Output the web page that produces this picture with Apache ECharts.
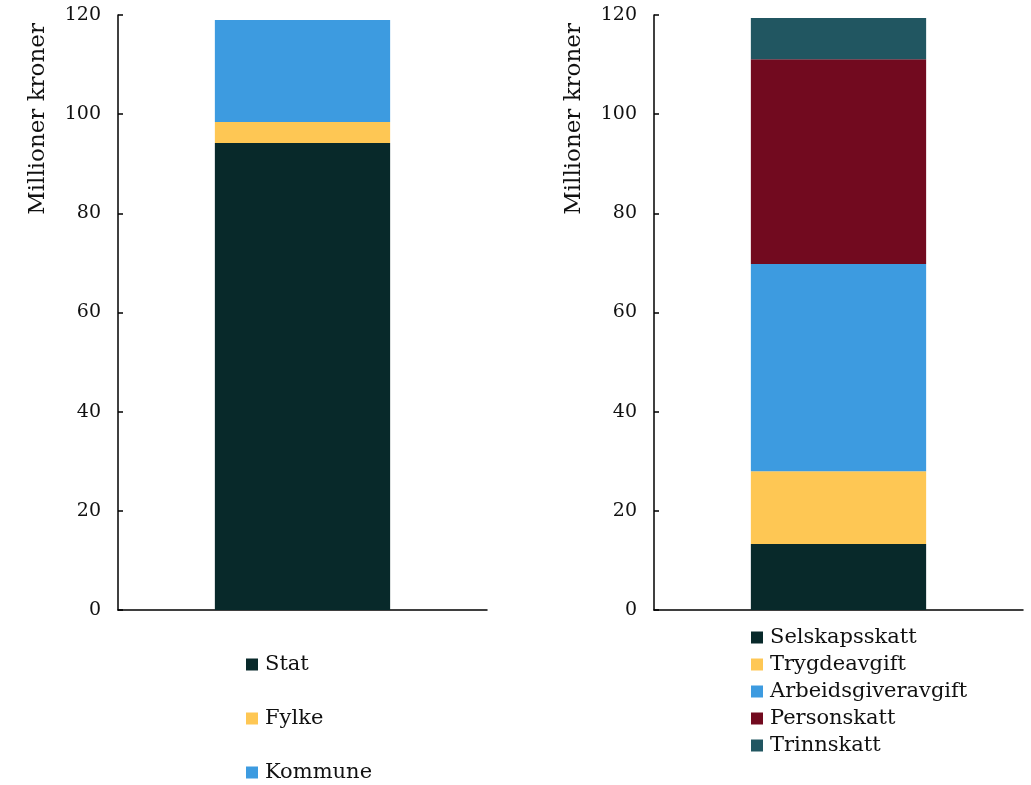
<!DOCTYPE html>
<html>
<head>
<meta charset="utf-8">
<script src="https://cdn.jsdelivr.net/npm/echarts@6/dist/echarts.min.js"></script>
<style>html,body{margin:0;padding:0;background:#fff;}#c{width:1031px;height:785px;}</style>
</head>
<body>
<div id="c"></div>
<script>
const leftNames = ['Stat', 'Fylke', 'Kommune'];
const leftValues = [94.2, 4.2, 20.6];
const leftColors = ['#08292a', '#fec754', '#3d9be0'];

const rightNames = ['Selskapsskatt', 'Trygdeavgift', 'Arbeidsgiveravgift', 'Personskatt', 'Trinnskatt'];
const rightValues = [13.3, 14.7, 41.8, 41.3, 8.3];
const rightColors = ['#08292a', '#fec754', '#3d9be0', '#720a1f', '#215661'];

const yTitle = 'Millioner kroner';
const yMin = 0, yMax = 120, yStep = 20;

const FONT = 'DejaVu Serif';
const chart = echarts.init(document.getElementById('c'));

function yAxis(idx) {
  return {
    type: 'value', gridIndex: idx, min: yMin, max: yMax, interval: yStep,
    splitLine: { show: false },
    axisLine: { show: true, lineStyle: { color: '#000', width: 1.5 } },
    axisTick: { show: true, inside: true, length: 5, lineStyle: { color: '#000', width: 1.5 } },
    axisLabel: { color: '#111', fontFamily: FONT, fontSize: 19, margin: 17 }
  };
}
function xAxis(idx) {
  return {
    type: 'category', gridIndex: idx, data: [''],
    axisLine: { show: true, lineStyle: { color: '#000', width: 1.5 } },
    axisTick: { show: false }, axisLabel: { show: false }
  };
}
const series = [];
leftNames.forEach((n, i) => series.push({
  name: n, type: 'bar', stack: 'left', xAxisIndex: 0, yAxisIndex: 0,
  barWidth: '47.5%', data: [leftValues[i]], itemStyle: { color: leftColors[i] }
}));
rightNames.forEach((n, i) => series.push({
  name: n, type: 'bar', stack: 'right', xAxisIndex: 1, yAxisIndex: 1,
  barWidth: '47.5%', data: [rightValues[i]], itemStyle: { color: rightColors[i] }
}));

chart.setOption({
  animation: false,
  color: leftColors.concat(rightColors),
  grid: [
    { left: 118, right: 544, top: 15, bottom: 175 },
    { left: 654, right: 8, top: 15, bottom: 175 }
  ],
  xAxis: [xAxis(0), xAxis(1)],
  yAxis: [yAxis(0), yAxis(1)],
  legend: [
    { data: leftNames, orient: 'vertical', left: 246, top: 654, padding: 0, icon: 'rect', itemWidth: 12, itemHeight: 12,
      itemGap: 33, textStyle: { fontFamily: FONT, fontSize: 21, color: '#111', padding: [0, 0, 0, 2] }, selectedMode: false },
    { data: rightNames, orient: 'vertical', left: 751, top: 627, padding: 0, icon: 'rect', itemWidth: 12, itemHeight: 12,
      itemGap: 6, textStyle: { fontFamily: FONT, fontSize: 21, color: '#111', padding: [0, 0, 0, 2] }, selectedMode: false }
  ],
  graphic: [
    { type: 'text', x: 38, y: 119, rotation: Math.PI / 2,
      style: { text: yTitle, fontFamily: FONT, fontSize: 23, fill: '#111', textAlign: 'center', textVerticalAlign: 'middle' } },
    { type: 'text', x: 574, y: 119, rotation: Math.PI / 2,
      style: { text: yTitle, fontFamily: FONT, fontSize: 23, fill: '#111', textAlign: 'center', textVerticalAlign: 'middle' } }
  ],
  series: series
});
</script>
</body>
</html>
